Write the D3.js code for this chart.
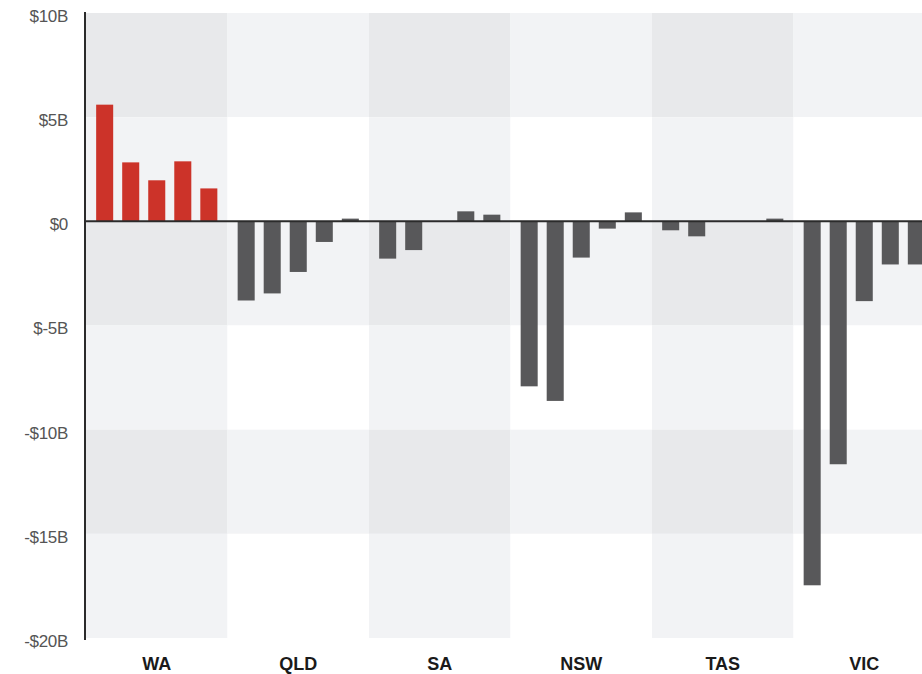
<!DOCTYPE html>
<meta charset="utf-8">
<style>

body {
  margin: 0;
  background: #fff;
}

.tick-label {
  font: 17px "Liberation Sans", Arial, sans-serif;
  fill: #555;
  letter-spacing: -0.3px;
}

.state-label {
  font: bold 18px "Liberation Sans", Arial, sans-serif;
  fill: #1a1a1a;
}

</style>
<body>
<script src="https://cdn.jsdelivr.net/npm/d3@7"></script>
<script>

var states = ["WA", "QLD", "SA", "NSW", "TAS", "VIC"],
	periods = ["p1", "p2", "p3", "p4", "p5"],
	waValues = [5.6, 2.83, 1.97, 2.88, 1.58],
	qldValues = [-3.8, -3.46, -2.43, -0.99, 0.13],
	saValues = [-1.79, -1.38, 0, 0.48, 0.32],
	nswValues = [-7.92, -8.62, -1.74, -0.35, 0.43],
	tasValues = [-0.43, -0.72, -0.02, 0, 0.13],
	vicValues = [-17.47, -11.66, -3.83, -2.07, -2.07],
	tickValues = [10, 5, 0, -5, -10, -15, -20],
	tickLabels = ["$10B", "$5B", "$0", "$-5B", "-$10B", "-$15B", "-$20B"];

var seriesByState = [waValues, qldValues, saValues, nswValues, tasValues, vicValues];

var width = 922,
	height = 674,
	plotLeft = 86,
	plotTop = 13,
	plotBottom = 638,
	colWidth = 141.5;

var svg = d3.select("body").append("svg")
	.attr("width", width)
	.attr("height", height);

var x = d3.scaleBand()
	.domain(states)
	.range([plotLeft, plotLeft + colWidth * states.length]);

var xInner = d3.scaleBand()
	.domain(periods)
	.range([0, colWidth])
	.paddingInner(0.346)
	.paddingOuter(0.39);

var y = d3.scaleLinear()
	.domain([-20, 10])
	.range([plotBottom, plotTop]);

// background checkerboard: columns alternate, bands alternate
var bands = d3.pairs(tickValues);
var cells = [];
states.forEach(function(s, i) {
	bands.forEach(function(b, j) {
		cells.push({state: s, col: i, row: j, hi: b[0], lo: b[1]});
	});
});

function cellFill(d) {
	var darkCol = d.col % 2 == 0,
		darkRow = d.row % 2 == 0;
	if (darkCol && darkRow) return "#e8e9eb";
	if (darkCol || darkRow) return "#f2f3f5";
	return "#ffffff";
}

svg.append("g").selectAll("rect")
	.data(cells)
	.enter().append("rect")
	.attr("x", function(d) { return x(d.state); })
	.attr("y", function(d) { return y(d.hi); })
	.attr("width", x.bandwidth())
	.attr("height", function(d) { return y(d.lo) - y(d.hi); })
	.attr("fill", cellFill);

// bars
var groups = svg.append("g").selectAll("g")
	.data(states)
	.enter().append("g")
	.attr("transform", function(d) { return "translate(" + x(d) + ",0)"; });

groups.selectAll("rect")
	.data(function(d, i) {
		return seriesByState[i].map(function(v, k) { return {state: d, period: periods[k], value: v}; });
	})
	.enter().append("rect")
	.attr("x", function(d) { return xInner(d.period); })
	.attr("y", function(d) { return y(Math.max(0, d.value)); })
	.attr("width", xInner.bandwidth())
	.attr("height", function(d) { return Math.abs(y(d.value) - y(0)); })
	.attr("fill", function(d) { return d.value > 0 && d.state == "WA" ? "#cc3329" : "#58585a"; });

// zero line
svg.append("line")
	.attr("x1", plotLeft)
	.attr("x2", width)
	.attr("y1", y(0))
	.attr("y2", y(0))
	.attr("stroke", "#2b2b2b")
	.attr("stroke-width", 2);

// y axis line
svg.append("line")
	.attr("x1", plotLeft - 1)
	.attr("x2", plotLeft - 1)
	.attr("y1", plotTop - 1)
	.attr("y2", plotBottom + 2)
	.attr("stroke", "#2b2b2b")
	.attr("stroke-width", 2);

// y tick labels (sit a little below their gridline, as in the original)
svg.append("g").selectAll("text")
	.data(tickValues)
	.enter().append("text")
	.attr("class", "tick-label")
	.attr("x", 68)
	.attr("y", function(d) { return y(d) + 3; })
	.attr("dy", "0.35em")
	.attr("text-anchor", "end")
	.text(function(d, i) { return tickLabels[i]; });

// state labels
svg.append("g").selectAll("text")
	.data(states)
	.enter().append("text")
	.attr("class", "state-label")
	.attr("x", function(d) { return x(d) + x.bandwidth() / 2; })
	.attr("y", 670)
	.attr("text-anchor", "middle")
	.text(function(d) { return d; });

</script>
</body>
</html>
